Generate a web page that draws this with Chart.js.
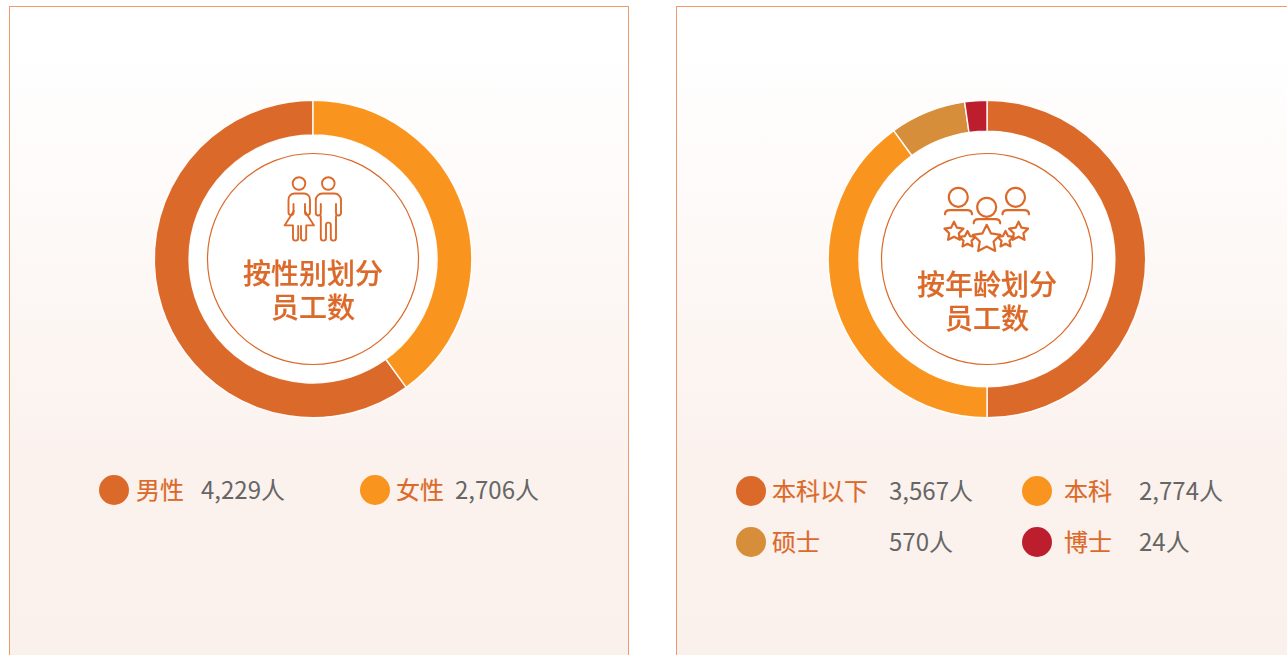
<!DOCTYPE html>
<html lang="zh-CN"><head><meta charset="utf-8">
<script src="https://cdn.jsdelivr.net/npm/chart.js@4"></script>
<style>
html,body{margin:0;padding:0;width:1287px;height:655px;overflow:hidden;background:#fff;font-family:"Noto Sans CJK SC","Noto Sans",sans-serif}
.panel{position:absolute;top:6px;height:700px;box-sizing:border-box;border:1px solid #ee9a6e;background:linear-gradient(180deg,#fff 0%,#fff 5%,#fbf2ee 65%,#faf0eb 100%)}
canvas{position:absolute;top:89px;width:340px;height:340px}
svg{position:absolute;left:0;top:0}
.t{position:absolute;white-space:nowrap;line-height:34px}
.title{font-size:28px;font-weight:500;color:#db6a2a;text-align:center;width:200px;-webkit-text-stroke:.2px #db6a2a}
.name{font-size:24px;font-weight:400;color:#db6a2a;-webkit-text-stroke:.2px #db6a2a}
.val{font-size:24px;font-weight:400;color:#666}
.dot{position:absolute;width:30px;height:30px;border-radius:50%}
</style></head><body>
<div class="panel" style="left:9px;width:620px"></div>
<div class="panel" style="left:676px;width:640px"></div>
<svg id="deco" width="1287" height="655" fill="none" stroke="#db6a2a" stroke-width="1.9" stroke-linecap="round" stroke-linejoin="round">
 <circle cx="313" cy="259" r="125" fill="#fff" stroke="none"/>
 <circle cx="987" cy="259" r="129" fill="#fff" stroke="none"/>
 <circle cx="313" cy="259" r="105.5" stroke-width="1.2"/>
 <circle cx="987" cy="259" r="105.5" stroke-width="1.2"/>
 <!-- woman -->
 <circle cx="299" cy="183.500" r="6.300"/>
 <path d="M293.5 204V212.500a2.400 2.400 0 0 1-5 0V200a6 6 0 0 1 6-6.500h9.500a6 6 0 0 1 6 6.500V212.500a2.400 2.400 0 0 1-5 0V204"/>
 <path d="M293.800 211L284.600 225.400H293V238a2.600 2.600 0 0 0 5.200 0V226M301 226V238a2.600 2.600 0 0 0 5.200 0V225.400H314L304.800 211"/>
 <!-- man -->
 <circle cx="328.300" cy="183.500" r="6.300"/>
 <path d="M320.800 204V213a2.500 2.500 0 0 1-5 0V200.500a6.600 6.600 0 0 1 6.600-7h12a6.600 6.600 0 0 1 6.600 7V213a2.500 2.500 0 0 1-5 0V204"/>
 <path d="M320.800 216V238a2.600 2.600 0 0 0 5.200 0V225a2.400 2.400 0 0 1 4.800 0V238a2.600 2.600 0 0 0 5.200 0V216"/>
 <!-- people -->
 <g stroke-width="2.200">
 <circle cx="958.300" cy="197.300" r="9.500"/><path d="M945 214.300c0-2.600 2-4.200 5-4.200h17c3 0 5 1.600 5 4.200"/>
 <circle cx="1015.500" cy="197.300" r="9.500"/><path d="M1002.500 214.300c0-2.600 2-4.200 5-4.200h16.500c3 0 5 1.600 5 4.200"/>
 <circle cx="986.700" cy="207.300" r="9.500"/><path d="M973.700 223.300c0-2.600 2-4.200 5-4.200h16.500c3 0 5 1.600 5 4.200"/>
 </g>
 <g id="stars" stroke-width="2.200" fill="#fff"></g>
</svg>
<canvas id="genderChart" width="340" height="340" style="left:143px"></canvas>
<canvas id="eduChart" width="340" height="340" style="left:817px"></canvas>
<div class="t title" style="left:213px;top:255px">按性别划分</div>
<div class="t title" style="left:213px;top:289px">员工数</div>
<div class="t title" style="left:887px;top:266px">按年龄划分</div>
<div class="t title" style="left:887px;top:300px">员工数</div>
<div id="legend"></div>
<script>
// Categories and head-counts as printed in the legends
const genderCategories = ['男性', '女性'];
const genderCounts = ['4,229人', '2,706人'];
const eduCategories = ['本科以下', '本科', '硕士', '博士'];
const eduCounts = ['3,567人', '2,774人', '570人', '24人'];
// Slice shares (%)
const genderShares = [60, 40];
const eduShares = [50, 40, 7.75, 2.25];
const genderColors = ['#db6a2a', '#f9951e'];
const eduColors = ['#db6a2a', '#f9951e', '#d78e3a', '#bd1e2d'];

function ring(id, labels, data, colors, cutout, rotation) {
  new Chart(document.getElementById(id), {
    type: 'doughnut',
    data: { labels, datasets: [{ data, backgroundColor: colors, borderColor: 'rgba(255,255,255,0.95)', borderWidth: 1.4, hoverOffset: 0 }] },
    options: { responsive: false, animation: false, radius: 158.7, cutout, rotation,
      layout: { padding: 0 }, plugins: { legend: { display: false }, tooltip: { enabled: false } } }
  });
}
ring('genderChart', genderCategories, genderShares, genderColors, '78.1%', 144);
ring('eduChart', eduCategories, eduShares, eduColors, '80.6%', 0);

const legendPlaces = [
  [genderCategories, genderCounts, genderColors, [[99,475,136,201],[360,475,396,455]]],
  [eduCategories, eduCounts, eduColors, [[736,476,772,889],[1022,476,1064,1139],[736,527,772,889],[1022,527,1064,1139]]]
];
const legend = document.getElementById('legend');
legendPlaces.forEach(([names, counts, colors, spots]) => names.forEach((n, i) => {
  const [dx, dy, nx, vx] = spots[i];
  legend.insertAdjacentHTML('beforeend',
    `<div class="dot" style="left:${dx}px;top:${dy}px;background:${colors[i]}"></div>` +
    `<div class="t name" style="left:${nx}px;top:${dy-3}px">${n}</div>` +
    `<div class="t val" style="left:${vx}px;top:${dy-3}px">${counts[i]}</div>`);
}));

// decorative star icon
const starSpots = [[954,231.7,10],[1018.6,231.7,10],[967.5,239.5,8.5],[1005.5,239.5,8.5],[986.7,239.3,14.5]];
const g = document.getElementById('stars');
starSpots.forEach(([cx, cy, r]) => {
  let p = [];
  for (let k = 0; k < 10; k++) {
    const a = -Math.PI/2 + k*Math.PI/5, q = k%2 ? r*0.5 : r;
    p.push((cx+q*Math.cos(a)).toFixed(1)+','+(cy+q*Math.sin(a)).toFixed(1));
  }
  g.insertAdjacentHTML('beforeend', `<polygon points="${p.join(' ')}"/>`);
});
</script>
</body></html>
